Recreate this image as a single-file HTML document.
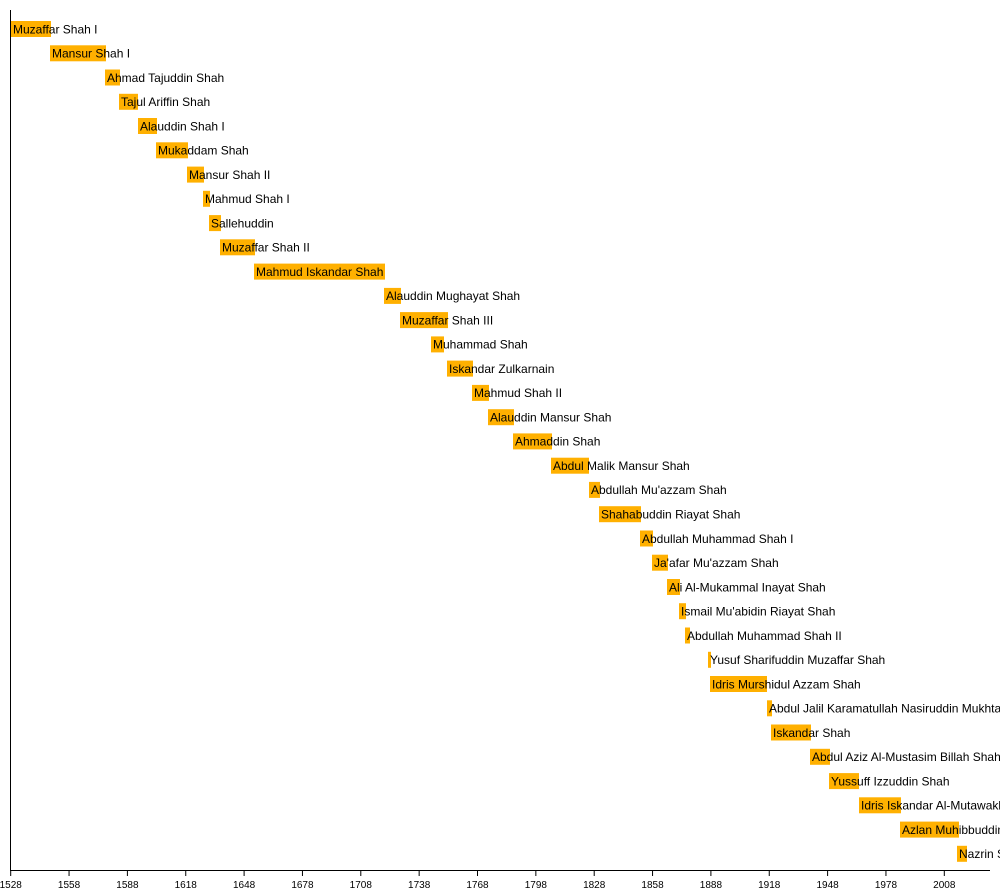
<!DOCTYPE html>
<html><head><meta charset="utf-8"><style>
html,body{margin:0;padding:0;background:#fff;width:1000px;height:890px;overflow:hidden}
svg{display:block}
text{font-family:"Liberation Sans",Arial,sans-serif;fill:#000}
.l{font-size:12px}
.t{font-size:10px;text-anchor:middle}
rect{fill:#ffb000}
</style></head><body>
<svg width="1000" height="890" xmlns="http://www.w3.org/2000/svg">
<g id="bars"></g>
<line x1="10.5" y1="10" x2="10.5" y2="870" stroke="#000"/>
<line x1="10" y1="870.5" x2="990" y2="870.5" stroke="#000"/>
<g id="ticks"></g>
</svg>
<script>
var d=[["Muzaffar Shah I",11,51],["Mansur Shah I",50,106],["Ahmad Tajuddin Shah",105,120],["Tajul Ariffin Shah",119,138],["Alauddin Shah I",138,157],["Mukaddam Shah",156,188],["Mansur Shah II",187,204],["Mahmud Shah I",203,210],["Sallehuddin",209,221],["Muzaffar Shah II",220,255],["Mahmud Iskandar Shah",254,385],["Alauddin Mughayat Shah",384,401],["Muzaffar Shah III",400,448],["Muhammad Shah",431,444],["Iskandar Zulkarnain",447,473],["Mahmud Shah II",472,489],["Alauddin Mansur Shah",488,514],["Ahmaddin Shah",513,552],["Abdul Malik Mansur Shah",551,589],["Abdullah Mu'azzam Shah",589,600],["Shahabuddin Riayat Shah",599,641],["Abdullah Muhammad Shah I",640,653],["Ja'afar Mu'azzam Shah",652,668],["Ali Al-Mukammal Inayat Shah",667,680],["Ismail Mu'abidin Riayat Shah",679,686],["Abdullah Muhammad Shah II",685,690],["Yusuf Sharifuddin Muzaffar Shah",708,711],["Idris Murshidul Azzam Shah",710,767],["Abdul Jalil Karamatullah Nasiruddin Mukhtaram Shah",767,772],["Iskandar Shah",771,811],["Abdul Aziz Al-Mustasim Billah Shah",810,830],["Yussuff Izzuddin Shah",829,859],["Idris Iskandar Al-Mutawakkil Alallahi Shah",859,901],["Azlan Muhibbuddin Shah",900,959],["Nazrin Shah",957,967]];
var ns="http://www.w3.org/2000/svg",g=document.getElementById("bars"),s="";
d.forEach(function(r,i){var y=21+i*24.26;
s+='<rect x="'+r[1]+'" y="'+y.toFixed(1)+'" width="'+(r[2]-r[1])+'" height="16"/>';
s+='<text class="l" x="'+(r[1]+2)+'" y="'+(y+12.3).toFixed(1)+'">'+r[0]+'</text>';});
g.innerHTML=s;
var t="";for(var k=0;k<=16;k++){var x=10.7+k*58.35;t+='<line x1="'+x+'" y1="870" x2="'+x+'" y2="876" stroke="#000"/><text class="t" x="'+x+'" y="888">'+(1528+30*k)+'</text>';}
document.getElementById("ticks").innerHTML=t;
</script>
</body></html>
